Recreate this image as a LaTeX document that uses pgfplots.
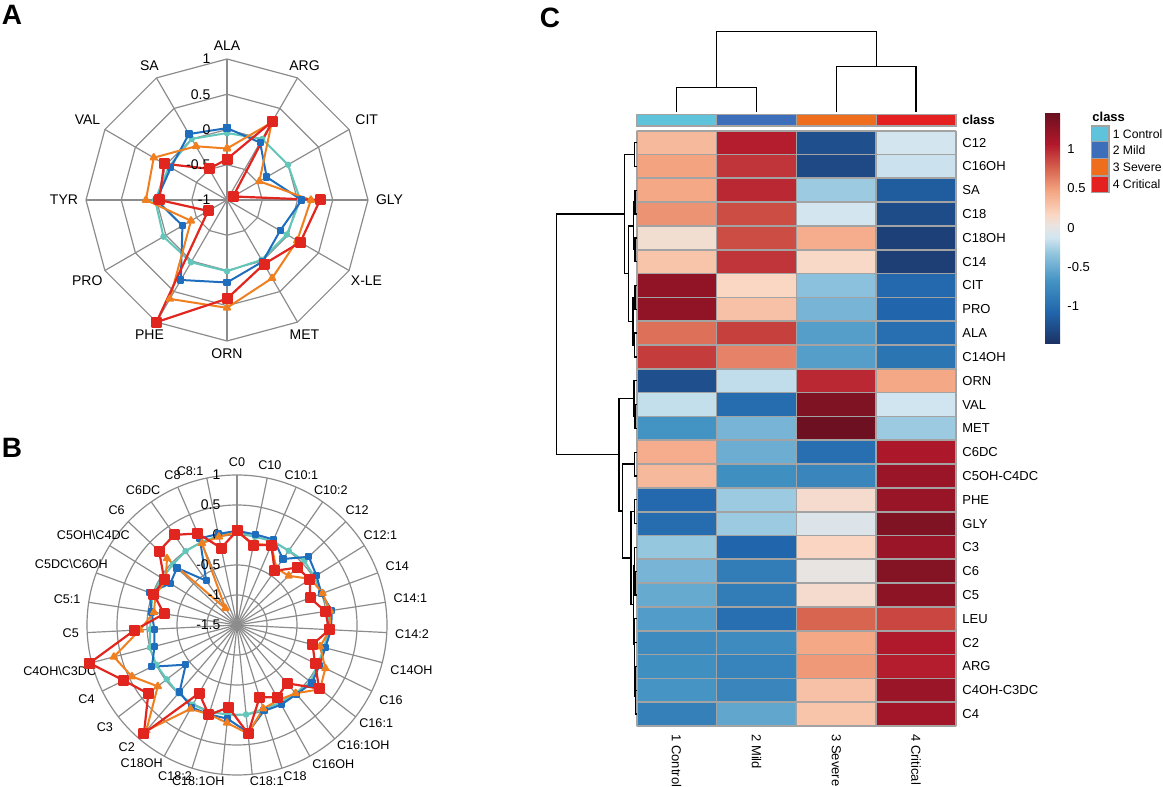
\documentclass[border=0pt]{standalone}
\usepackage{fontspec}
\setmainfont{Liberation Sans}
\usepackage{pgfplots}
\pgfplotsset{compat=1.18}
\usepackage{pgfplotstable}

\definecolor{lctrl}{HTML}{62C6BA}
\definecolor{lmild}{HTML}{1F6EBE}
\definecolor{lsev}{HTML}{F07F1F}
\definecolor{lcrit}{HTML}{E1251F}
\definecolor{bctrl}{HTML}{5FC3DC}
\definecolor{bmild}{HTML}{3C6EB9}
\definecolor{bsev}{HTML}{EE6E1E}
\definecolor{bcrit}{HTML}{E42020}
\definecolor{gridgray}{HTML}{8C8C8C}
\definecolor{cellgray}{HTML}{A3A3A3}

\newcommand{\af}{\fontsize{7}{8}\selectfont}
\newcommand{\blf}{\fontsize{6.3}{7}\selectfont}
\newcommand{\hf}{\fontsize{6.5}{7.5}\selectfont}
\newcommand{\lgf}{\fontsize{6.1}{7}\selectfont}

% panel A: amino acids, 12 spokes
\pgfplotstableread{
k  ctrl  mild  sev   crit
0  -0.05 0.02  -0.27 -0.42
1  0.00  -0.06 0.27  0.29
2  0.00  -0.35 -0.47 -0.90
3  0.04  0.06  0.19  0.32
4  -0.02 -0.13 0.15  0.20
5  -0.02 0.01  0.28  0.05
6  0.01  0.17  0.53  0.40
7  0.02  0.31  0.62  1.00
8  0.04  -0.27 -0.41 -0.69
9  0.02  0.00  0.15  -0.04
10 -0.05 -0.08 0.20  0.03
11 0.00  0.08  -0.12 -0.49
12 -0.05 0.02  -0.27 -0.42
}\radarA

% panel B: acylcarnitines, 31 spokes
\pgfplotstableread{
k  ctrl  mild  sev   crit
0  0.05  0.07  0.05  0.07
1  0.00  0.04  -0.12 -0.14
2  0.02  0.05  -0.05 -0.05
3  0.01  -0.16 -0.35 -0.40
4  0.05  0.15  -0.31 -0.11
5  0.02  0.06  -0.05 -0.07
6  0.02  0.00  0.02  -0.20
7  0.05  0.10  0.07  -0.01
8  0.03  0.07  0.05  0.04
9  0.00  0.02  -0.07 -0.20
10 0.00  0.03  0.14  -0.05
11 0.05  0.08  0.25  0.23
12 0.00  0.02  0.00  -0.22
13 -0.02 0.02  -0.07 -0.12
14 -0.03 0.00  -0.04 -0.24
15 0.00  0.30  0.32  0.32
16 0.00  0.07  0.14  -0.12
17 0.02  0.06  0.06  0.07
18 0.02  0.07  0.10  -0.20
19 0.00  -0.03 0.82  0.88
20 -0.02 -0.42 0.17  0.37
21 0.00  0.08  0.45  0.60
22 0.00  -0.08 0.62  1.04
23 -0.05 -0.12 0.12  0.21
24 -0.05 -0.06 -0.10 -0.27
25 0.00  0.05  -0.05 -0.02
26 -0.03 -0.19 -0.10 -0.07
27 -0.03 -0.12 0.11  0.29
28 0.00  -0.60 -1.16 0.33
29 0.00  0.07  -0.02 0.16
30 0.02  0.05  0.00  -0.19
31 0.05  0.07  0.05  0.07
}\radarB

% panel C: row-scaled heatmap, x = class, y = metabolite row
\pgfplotstableread{
x y c
0 0 0.35
1 0 1.05
2 0 -1.25
3 0 -0.12
0 1 0.48
1 1 0.95
2 1 -1.30
3 1 -0.15
0 2 0.45
1 2 1.00
2 2 -0.30
3 2 -1.15
0 3 0.55
1 3 0.85
2 3 -0.12
3 3 -1.28
0 4 0.10
1 4 0.85
2 4 0.42
3 4 -1.37
0 5 0.28
1 5 0.95
2 5 0.15
3 5 -1.38
0 6 1.25
1 6 0.17
2 6 -0.36
3 6 -1.05
0 7 1.25
1 7 0.30
2 7 -0.45
3 7 -1.08
0 8 0.70
1 8 0.90
2 8 -0.60
3 8 -1.00
0 9 0.92
1 9 0.62
2 9 -0.60
3 9 -0.95
0 10 -1.25
1 10 -0.18
2 10 1.00
3 10 0.45
0 11 -0.17
1 11 -1.02
2 11 1.35
3 11 -0.13
0 12 -0.68
1 12 -0.45
2 12 1.45
3 12 -0.30
0 13 0.42
1 13 -0.50
2 13 -1.00
3 13 1.10
0 14 0.35
1 14 -0.72
2 14 -0.80
3 14 1.20
0 15 -1.05
1 15 -0.30
2 15 0.12
3 15 1.22
0 16 -1.02
1 16 -0.30
2 16 -0.05
3 16 1.35
0 17 -0.32
1 17 -1.08
2 17 0.18
3 17 1.20
0 18 -0.45
1 18 -0.88
2 18 0.02
3 18 1.32
0 19 -0.52
1 19 -0.88
2 19 0.12
3 19 1.28
0 20 -0.62
1 20 -1.00
2 20 0.75
3 20 0.88
0 21 -0.75
1 21 -0.75
2 21 0.45
3 21 1.08
0 22 -0.72
1 22 -0.82
2 22 0.52
3 22 1.05
0 23 -0.67
1 23 -0.80
2 23 0.30
3 23 1.20
0 24 -0.85
1 24 -0.55
2 24 0.28
3 24 1.15
}\heat

\pgfplotsset{
  colormap={hm}{rgb255(0pt)=(28,50,100); rgb255(8pt)=(33,102,172);
    rgb255(16pt)=(67,147,195); rgb255(23pt)=(146,197,222);
    rgb255(27pt)=(209,229,240); rgb255(30pt)=(232,228,226);
    rgb255(33pt)=(250,215,195); rgb255(39pt)=(244,165,130);
    rgb255(45pt)=(214,96,77); rgb255(51pt)=(178,24,43);
    rgb255(59pt)=(105,16,32)},
  radar/.style={hide axis, scale only axis, clip=false, anchor=center},
  sctrl/.style={lctrl, line width=1pt, line join=round, mark=*, mark size=1.1pt},
  smild/.style={lmild, line width=1pt, line join=round, mark=square*, mark size=1.3pt},
  ssev/.style={lsev, line width=1pt, line join=round, mark=triangle*, mark size=1.8pt},
  scrit/.style={lcrit, line width=1.1pt, line join=round, mark=square*, mark size=2.2pt},
}

\newcommand{\alab}[3]{\node[anchor=#3, inner sep=1pt, font=\af] at (axis cs:{2.08*sin(#1*30)},{2.08*cos(#1*30)}) {#2};}
\newcommand{\blab}[3]{\node[anchor=#3, inner sep=1pt, font=\blf] at (axis cs:{2.6*sin(#1*360/31)},{2.6*cos(#1*360/31)}) {#2};}
\newcommand{\bat}[3]{\node[inner sep=1pt, font=\blf] at (axis cs:#1,#2) {#3};}
\newcommand{\ujoin}[5]{\draw[black, line width=0.65pt] (axis cs:#3,#2) -- (axis cs:#1,#2) -- (axis cs:#1,#4) -- (axis cs:#5,#4);}

\begin{document}
\begin{tikzpicture}[x=1pt,y=1pt]
\path[use as bounding box] (0,0) rectangle (581.5,393.5);

\node[font=\fontsize{14}{14}\selectfont\bfseries] at (6,386) {A};
\node[font=\fontsize{14}{14}\selectfont\bfseries] at (6,169.5) {B};
\node[font=\fontsize{14}{14}\selectfont\bfseries] at (275,384.5) {C};

% ---------------- A ----------------
\begin{axis}[radar, at={(113.5pt,293.5pt)}, x=35.25pt, y=35.25pt,
  xmin=-2.6, xmax=2.6, ymin=-2.6, ymax=2.6]
  \pgfplotsinvokeforeach{0.5,1,1.5,2}{
    \draw[gridgray, line width=0.6pt] (axis cs:0,#1)
      \foreach \k in {1,...,11}{ -- (axis cs:{#1*sin(\k*30)},{#1*cos(\k*30)})} -- cycle;
  }
  \pgfplotsinvokeforeach{0,...,11}{
    \draw[gridgray, line width=0.6pt] (axis cs:0,0) -- (axis cs:{2*sin(#1*30)},{2*cos(#1*30)});
  }
  \addplot[sctrl] table[x expr={(\thisrow{ctrl}+1)*sin(30*\thisrow{k})}, y expr={(\thisrow{ctrl}+1)*cos(30*\thisrow{k})}] {\radarA};
  \addplot[smild] table[x expr={(\thisrow{mild}+1)*sin(30*\thisrow{k})}, y expr={(\thisrow{mild}+1)*cos(30*\thisrow{k})}] {\radarA};
  \addplot[ssev] table[x expr={(\thisrow{sev}+1)*sin(30*\thisrow{k})}, y expr={(\thisrow{sev}+1)*cos(30*\thisrow{k})}] {\radarA};
  \addplot[scrit] table[x expr={(\thisrow{crit}+1)*sin(30*\thisrow{k})}, y expr={(\thisrow{crit}+1)*cos(30*\thisrow{k})}] {\radarA};
  \node[anchor=east, inner sep=0pt, font=\af] at (axis cs:-0.23,2) {1};
  \node[anchor=east, inner sep=0pt, font=\af] at (axis cs:-0.23,1.5) {0.5};
  \node[anchor=east, inner sep=0pt, font=\af] at (axis cs:-0.23,1) {0};
  \node[anchor=east, inner sep=0pt, font=\af] at (axis cs:-0.23,0.5) {-0.5};
  \node[anchor=east, inner sep=0pt, font=\af] at (axis cs:-0.23,0) {-1};
  \alab{0}{ALA}{270}
  \alab{1}{ARG}{240}
  \alab{2}{CIT}{210}
  \alab{3}{GLY}{180}
  \alab{4}{X-LE}{150}
  \alab{5}{MET}{120}
  \alab{6}{ORN}{90}
  \alab{7}{PHE}{60}
  \alab{8}{PRO}{30}
  \alab{9}{TYR}{0}
  \alab{10}{VAL}{330}
  \alab{11}{SA}{300}
\end{axis}

% ---------------- B ----------------
\begin{axis}[radar, at={(118.5pt,81pt)}, x=30pt, y=30pt,
  xmin=-3.1, xmax=3.1, ymin=-3.1, ymax=3.1]
  \pgfplotsinvokeforeach{15,30,45,60,75}{
    \draw[gridgray, line width=0.6pt] (axis cs:0,0) circle[radius=#1pt];
  }
  \pgfplotsinvokeforeach{0,...,30}{
    \draw[gridgray, line width=0.6pt] (axis cs:0,0) -- (axis cs:{2.5*sin(#1*360/31)},{2.5*cos(#1*360/31)});
  }
  \addplot[sctrl] table[x expr={(\thisrow{ctrl}+1.5)*sin(360/31*\thisrow{k})}, y expr={(\thisrow{ctrl}+1.5)*cos(360/31*\thisrow{k})}] {\radarB};
  \addplot[smild] table[x expr={(\thisrow{mild}+1.5)*sin(360/31*\thisrow{k})}, y expr={(\thisrow{mild}+1.5)*cos(360/31*\thisrow{k})}] {\radarB};
  \addplot[ssev] table[x expr={(\thisrow{sev}+1.5)*sin(360/31*\thisrow{k})}, y expr={(\thisrow{sev}+1.5)*cos(360/31*\thisrow{k})}] {\radarB};
  \addplot[scrit] table[x expr={(\thisrow{crit}+1.5)*sin(360/31*\thisrow{k})}, y expr={(\thisrow{crit}+1.5)*cos(360/31*\thisrow{k})}] {\radarB};
  \node[anchor=east, inner sep=0pt, font=\af] at (axis cs:-0.27,2.5) {1};
  \node[anchor=east, inner sep=0pt, font=\af] at (axis cs:-0.27,2.0) {0.5};
  \node[anchor=east, inner sep=0pt, font=\af] at (axis cs:-0.27,1.5) {0};
  \node[anchor=east, inner sep=0pt, font=\af] at (axis cs:-0.27,1.0) {-0.5};
  \node[anchor=east, inner sep=0pt, font=\af] at (axis cs:-0.27,0.5) {-1};
  \node[anchor=east, inner sep=0pt, font=\af] at (axis cs:-0.27,0) {-1.5};
  \blab{0}{C0}{270}
  \blab{1}{C10}{258}
  \blab{2}{C10:1}{247}
  \blab{3}{C10:2}{235}
  \blab{4}{C12}{224}
  \blab{5}{C12:1}{212}
  \blab{6}{C14}{200}
  \blab{7}{C14:1}{189}
  \blab{8}{C14:2}{177}
  \blab{9}{C14OH}{166}
  \blab{10}{C16}{154}
  \bat{2.32}{-1.63}{C16:1}
  \bat{2.105}{-2.01}{C16:1OH}
  \bat{1.605}{-2.32}{C16OH}
  \bat{0.967}{-2.52}{C18}
  \bat{0.495}{-2.6}{C18:1}
  \bat{-0.645}{-2.6}{C18:1OH}
  \bat{-1.033}{-2.52}{C18:2}
  \bat{-1.588}{-2.3}{C18OH}
  \bat{-1.838}{-2.03}{C2}
  \blab{20}{C3}{38}
  \blab{21}{C4}{26}
  \blab{22}{C4OH\textbackslash C3DC}{15}
  \blab{23}{C5}{3}
  \blab{24}{C5:1}{351}
  \blab{25}{C5DC\textbackslash C6OH}{340}
  \blab{26}{C5OH\textbackslash C4DC}{328}
  \blab{27}{C6}{317}
  \blab{28}{C6DC}{305}
  \blab{29}{C8}{293}
  \bat{-0.78}{2.56}{C8:1}
\end{axis}

% ---------------- C ----------------
\begin{axis}[at={(318.35pt,30.5pt)}, anchor=south west, scale only axis,
  width=159.65pt, height=297.65pt,
  xmin=-0.5, xmax=3.5, ymin=-0.5, ymax=24.5, y dir=reverse,
  clip=false, axis line style={draw=none}, major tick length=0pt,
  xtick={0,1,2,3}, xticklabels={1 Control,2 Mild,3 Severe,4 Critical},
  xticklabel style={rotate=-90, anchor=west, font=\hf, inner sep=4pt},
  ytick={0,...,24},
  yticklabels={C12,C16OH,SA,C18,C18OH,C14,CIT,PRO,ALA,C14OH,ORN,VAL,MET,C6DC,C5OH-C4DC,PHE,GLY,C3,C6,C5,LEU,C2,ARG,C4OH-C3DC,C4},
  yticklabel pos=right,
  yticklabel style={font=\hf, anchor=west, inner sep=3pt},
  colormap name=hm, point meta min=-1.48, point meta max=1.47,
  colorbar,
  colorbar style={at={(parent axis.north east)}, anchor=north west,
    xshift=36pt, yshift=9pt, scale only axis, width=7.5pt, height=115.3pt,
    y dir=normal, axis line style={draw=none}, major tick length=0pt,
    xtick=\empty, ytick={-1,-0.5,0,0.5,1}, yticklabels={-1,-0.5,0,0.5,1},
    yticklabel pos=right, yticklabel style={font=\hf, anchor=west, inner sep=3.5pt}},
]
  \addplot[matrix plot*, mesh/cols=4, point meta=explicit] table[x=x, y=y, meta=c] {\heat};
  \pgfplotsinvokeforeach{-0.5,0.5,1.5,2.5,3.5}{
    \draw[cellgray, line width=0.85pt] (axis cs:#1,-0.5) -- (axis cs:#1,24.5);
  }
  \pgfplotsinvokeforeach{0,...,25}{
    \draw[cellgray, line width=0.85pt] (axis cs:-0.5,{#1-0.5}) -- (axis cs:3.5,{#1-0.5});
  }
  % class bar
  \draw[fill=bctrl, draw=cellgray, line width=0.6pt] (axis cs:-0.5,-1.19) rectangle (axis cs:0.5,-0.70);
  \draw[fill=bmild, draw=cellgray, line width=0.6pt] (axis cs:0.5,-1.19) rectangle (axis cs:1.5,-0.70);
  \draw[fill=bsev, draw=cellgray, line width=0.6pt] (axis cs:1.5,-1.19) rectangle (axis cs:2.5,-0.70);
  \draw[fill=bcrit, draw=cellgray, line width=0.6pt] (axis cs:2.5,-1.19) rectangle (axis cs:3.5,-0.70);
  \node[anchor=west, inner sep=3pt, font=\hf\bfseries] at (axis cs:3.5,-0.95) {class};
  % column dendrogram
  \draw[black, line width=0.65pt] (axis cs:0,-1.3) -- (axis cs:0,-2.31) -- (axis cs:1,-2.31) -- (axis cs:1,-1.3);
  \draw[black, line width=0.65pt] (axis cs:2,-1.3) -- (axis cs:2,-3.19) -- (axis cs:3,-3.19) -- (axis cs:3,-1.3);
  \draw[black, line width=0.65pt] (axis cs:0.5,-2.31) -- (axis cs:0.5,-4.66) -- (axis cs:2.5,-4.66) -- (axis cs:2.5,-3.19);
  % row dendrogram
  \ujoin{-0.53}{0}{-0.5}{1}{-0.5}
  \ujoin{-0.52}{2}{-0.5}{3}{-0.5}
  \ujoin{-0.52}{4}{-0.5}{5}{-0.5}
  \ujoin{-0.54}{2.5}{-0.52}{4.5}{-0.52}
  \ujoin{-0.52}{6}{-0.5}{7}{-0.5}
  \ujoin{-0.525}{8}{-0.5}{9}{-0.5}
  \ujoin{-0.545}{6.5}{-0.52}{8.5}{-0.525}
  \ujoin{-0.605}{3.5}{-0.54}{7.5}{-0.545}
  \ujoin{-0.655}{0.5}{-0.53}{5.5}{-0.605}
  \ujoin{-0.52}{11}{-0.5}{12}{-0.5}
  \ujoin{-0.535}{10}{-0.5}{11.5}{-0.52}
  \ujoin{-0.53}{13}{-0.5}{14}{-0.5}
  \ujoin{-0.525}{15}{-0.5}{16}{-0.5}
  \ujoin{-0.52}{18}{-0.5}{19}{-0.5}
  \ujoin{-0.525}{17}{-0.5}{18.5}{-0.52}
  \ujoin{-0.512}{22}{-0.5}{23}{-0.5}
  \ujoin{-0.518}{22.5}{-0.512}{24}{-0.5}
  \ujoin{-0.524}{21}{-0.5}{23.25}{-0.518}
  \ujoin{-0.53}{20}{-0.5}{22.125}{-0.524}
  \ujoin{-0.54}{17.75}{-0.525}{21.06}{-0.53}
  \ujoin{-0.571}{15.5}{-0.525}{19.4}{-0.54}
  \ujoin{-0.68}{13.5}{-0.53}{17.45}{-0.571}
  \ujoin{-0.72}{10.75}{-0.535}{15.475}{-0.68}
  \ujoin{-1.509}{3.0}{-0.655}{13.11}{-0.72}
\end{axis}

% class legend
\node[anchor=west, inner sep=0pt, font=\hf\bfseries] at (546,335.2) {class};
\draw[fill=bctrl, draw=cellgray, line width=0.6pt] (545.85,322.65) rectangle (554.5,330.5);
\draw[fill=bmild, draw=cellgray, line width=0.6pt] (545.85,314.35) rectangle (554.5,322.65);
\draw[fill=bsev, draw=cellgray, line width=0.6pt] (545.85,305.5) rectangle (554.5,314.35);
\draw[fill=bcrit, draw=cellgray, line width=0.6pt] (545.85,297.15) rectangle (554.5,305.5);
\node[anchor=west, inner sep=0pt, font=\lgf] at (556.2,326.6) {1 Control};
\node[anchor=west, inner sep=0pt, font=\lgf] at (556.2,318.5) {2 Mild};
\node[anchor=west, inner sep=0pt, font=\lgf] at (556.2,309.9) {3 Severe};
\node[anchor=west, inner sep=0pt, font=\lgf] at (556.2,301.3) {4 Critical};
\end{tikzpicture}
\end{document}
